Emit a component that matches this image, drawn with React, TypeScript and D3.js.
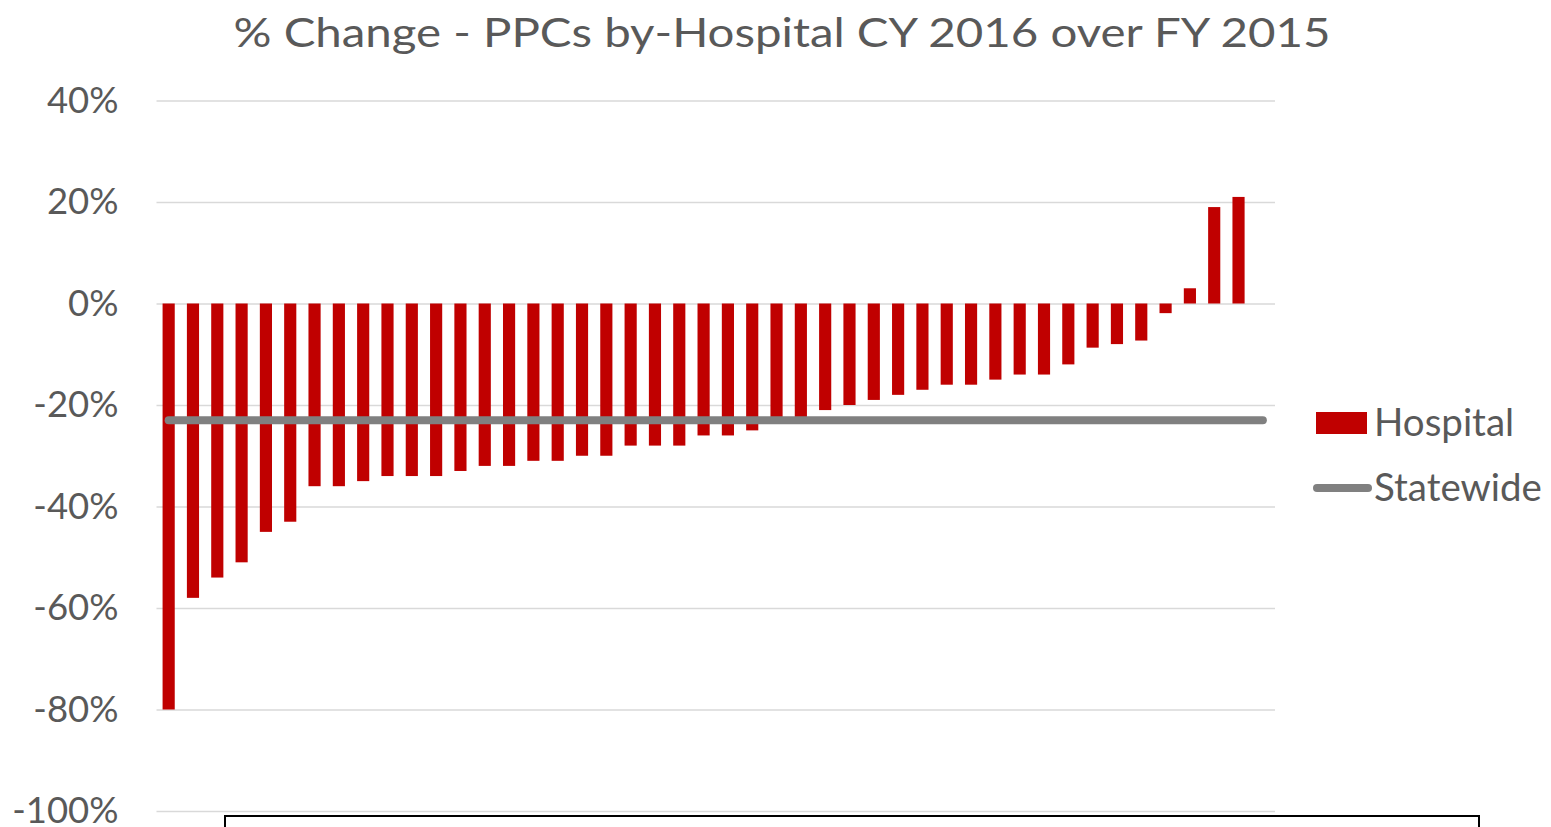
import React, { useEffect, useRef } from 'react';
import * as d3 from 'd3';

// 46 hospital slots, the last one has no bar
const hospitals = d3.range(1, 47).map((i) => `Hospital ${i}`);
const hospitalChange: (number | null)[] = [
  -80, -58, -54, -51, -45, -43, -36, -36, -35, -34,
  -34, -34, -33, -32, -32, -31, -31, -30, -30, -28,
  -28, -28, -26, -26, -25, -23, -23, -21, -20, -19,
  -18, -17, -16, -16, -15, -14, -14, -12, -8.7, -8,
  -7.3, -1.9, 3, 19, 21, null,
];
const statewideChange = -23;
const yTicks = [40, 20, 0, -20, -40, -60, -80, -100];
const title = '% Change - PPCs by-Hospital CY 2016 over FY 2015';
const legendLabels = ['Hospital', 'Statewide'];

const W = 1551;
const H = 827;
const FONT = 'Lato, "Open Sans", sans-serif';
const TEXT = '#595959';
const RED = '#c00000';
const GREY = '#808080';

export default function App() {
  const ref = useRef<SVGSVGElement>(null);

  useEffect(() => {
    const svg = d3.select(ref.current);
    svg.selectAll('*').remove();

    const left = 156.5;
    const right = 1275;
    const top = 100.5;
    const bottom = 811;

    const x = d3.scaleBand().domain(hospitals).range([left, right]).paddingInner(0.5).paddingOuter(0.25);
    const y = d3.scaleLinear().domain([-100, 40]).range([bottom, top]);

    // title
    svg.append('text')
      .attr('x', 782)
      .attr('y', 47)
      .attr('text-anchor', 'middle')
      .attr('font-family', FONT)
      .attr('font-size', 41)
      .attr('fill', TEXT)
      .attr('textLength', 1097)
      .attr('lengthAdjust', 'spacingAndGlyphs')
      .text(title);

    // y axis + gridlines
    const axis = svg.append('g')
      .attr('transform', `translate(${left},0)`)
      .call(
        d3.axisLeft(y)
          .tickValues(yTicks)
          .tickFormat((d) => `${d}%`)
          .tickSize(-(right - left))
          .tickPadding(38)
      );
    axis.select('.domain').remove();
    axis.selectAll('.tick line').attr('stroke', '#d9d9d9').attr('stroke-width', 1.5);
    axis.selectAll('.tick text')
      .attr('fill', TEXT)
      .attr('font-family', FONT)
      .attr('font-size', 36.5);

    // bars
    svg.append('g')
      .selectAll('rect')
      .data(hospitals.map((h, i) => ({ h, v: hospitalChange[i] })).filter((d) => d.v !== null))
      .enter()
      .append('rect')
      .attr('x', (d) => x(d.h)!)
      .attr('width', x.bandwidth())
      .attr('y', (d) => Math.min(y(d.v as number), y(0)))
      .attr('height', (d) => Math.abs(y(d.v as number) - y(0)))
      .attr('fill', RED);

    // statewide line
    const line = d3.line<string>()
      .x((d) => x(d)! + x.bandwidth() / 2)
      .y(() => y(statewideChange));
    svg.append('path')
      .datum(hospitals)
      .attr('d', line)
      .attr('fill', 'none')
      .attr('stroke', GREY)
      .attr('stroke-width', 8)
      .attr('stroke-linecap', 'round');

    // legend
    const lg = svg.append('g').attr('font-family', FONT).attr('font-size', 38.5).attr('fill', TEXT);
    lg.append('rect').attr('x', 1316).attr('y', 412).attr('width', 51).attr('height', 22).attr('fill', RED);
    lg.append('text').attr('x', 1374).attr('y', 436).text(legendLabels[0]);
    lg.append('line')
      .attr('x1', 1317).attr('x2', 1368).attr('y1', 488).attr('y2', 488)
      .attr('stroke', GREY).attr('stroke-width', 8).attr('stroke-linecap', 'round');
    lg.append('text').attr('x', 1374).attr('y', 501).text(legendLabels[1]);

    // box at bottom edge
    svg.append('rect')
      .attr('x', 225).attr('y', 816).attr('width', 1254).attr('height', 40)
      .attr('fill', 'white').attr('stroke', '#000').attr('stroke-width', 2);
  }, []);

  return (
    <svg
      ref={ref}
      width={W}
      height={H}
      style={{ position: 'absolute', left: 0, top: 0, display: 'block', background: '#fff' }}
    />
  );
}
